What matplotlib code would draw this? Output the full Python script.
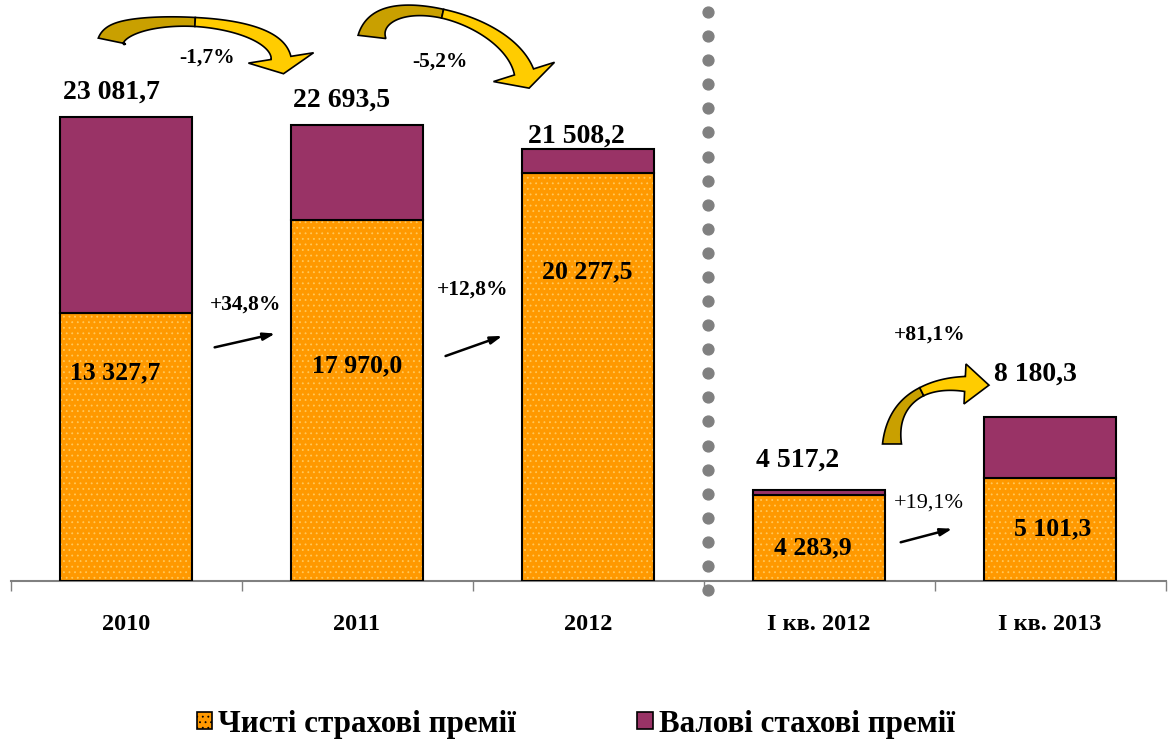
import matplotlib
matplotlib.use("Agg")
import matplotlib.pyplot as plt
from matplotlib.patches import Patch, Polygon
import numpy as np

categories = ["2010", "2011", "2012", "I кв. 2012", "I кв. 2013"]
gross = [23081.7, 22693.5, 21508.2, 4517.2, 8180.3]
net = [13327.7, 17970.0, 20277.5, 4283.9, 5101.3]
gross_labels = ["23 081,7", "22 693,5", "21 508,2", "4 517,2", "8 180,3"]
net_labels = ["13 327,7", "17 970,0", "20 277,5", "4 283,9", "5 101,3"]
gross_changes = ["-1,7%", "-5,2%", "+81,1%"]
net_changes = ["+34,8%", "+12,8%", "+19,1%"]
legend_labels = ["Чисті страхові премії", "Валові стахові премії"]

ORANGE = "#FF9900"
PURPLE = "#993366"
FONT = "Liberation Serif"
plt.rcParams["hatch.linewidth"] = 0.6

fig = plt.figure(figsize=(11.68, 7.45), dpi=100)
ax = fig.add_axes([10.5/1168, 164/745, 1155/1168, 581/745])
x = np.arange(len(categories))
w = 0.575
diff = [g - n for g, n in zip(gross, net)]

# orange with dotted pattern
ax.bar(x, net, w, color=ORANGE, edgecolor="#FFC85A", hatch="...", linewidth=0, zorder=2)
ax.bar(x, net, w, facecolor="none", edgecolor="black", linewidth=1.5, zorder=3)
ax.bar(x, diff, w, bottom=net, color=PURPLE, edgecolor="black", linewidth=1.5, zorder=3)

XLIM = (-0.5, 4.5)
YLIM = (0, 28900)
ax.set_xlim(*XLIM)
ax.set_ylim(*YLIM)
for s in ["top", "right", "left"]:
    ax.spines[s].set_visible(False)
ax.spines["bottom"].set_color("#808080")
ax.spines["bottom"].set_linewidth(1.5)
ax.set_yticks([])
ax.set_xticks([-0.5, 0.5, 1.5, 2.5, 3.5, 4.5])
ax.set_xticklabels([])
ax.tick_params(axis="x", length=7, color="#808080", width=1)
for xi, lab in zip(x, categories):
    ax.text(xi, -2150, lab, ha="center", va="center", fontsize=17.5, fontweight="bold",
            family=FONT)

# dotted separator
dot_y = np.linspace(-448, 28300, 25)
ax.plot(np.full_like(dot_y, 2.52), dot_y, linestyle="none", marker="o", markersize=7.8,
        color="#808080", clip_on=False, zorder=4)

# total labels
tot_pos = [(-0.065, 24330), (0.935, 23930), (1.952, 22140), (2.909, 6020), (3.935, 10300)]
for (tx, ty), lab in zip(tot_pos, gross_labels):
    ax.text(tx, ty, lab, ha="center", va="center", fontsize=20, fontweight="bold",
            family=FONT, zorder=8)

net_pos = [(-0.048, 10348), (1.0, 10697), (1.996, 15373), (2.974, 1642), (4.013, 2587)]
for (tx, ty), lab in zip(net_pos, net_labels):
    ax.text(tx, ty, lab, ha="center", va="center", fontsize=18.5, fontweight="bold", family=FONT)

# percentage labels
gc_pos = [(0.351, 26020), (1.359, 25821), (3.48, 12239)]
for (tx, ty), lab in zip(gc_pos, gross_changes):
    ax.text(tx, ty, lab, ha="center", va="center", fontsize=15.5, fontweight="bold", family=FONT)
nc_pos = [(0.519, 13731), (1.502, 14478), (3.476, 3880)]
for i, ((tx, ty), lab) in enumerate(zip(nc_pos, net_changes)):
    ax.text(tx, ty, lab, ha="center", va="center", fontsize=15.5 if i < 2 else 16,
            fontweight="bold" if i < 2 else "normal", family=FONT)

# straight black arrows
straight = [((0.372, 11592), (0.658, 12338)), ((1.372, 11144), (1.641, 12239)),
            ((3.342, 1891), (3.589, 2637))]
for a, b in straight:
    ax.annotate("", xy=b, xytext=a,
                arrowprops=dict(arrowstyle="-|>,head_length=0.7,head_width=0.22",
                                color="black", lw=1.8), zorder=5)


# curved ribbon arrows (Office-style curved arrows), cubic centre line in data coords
def ribbon_arrow(ctrl, wt, wm, wb, hw, hl, ts=0.5, dark="#C9A000", light="#FFCC00"):
    tr = ax.transData
    P = [np.array(tr.transform(p)) for p in ctrl]
    t = np.linspace(0, 1, 120)[:, None]
    pts = ((1 - t) ** 3 * P[0] + 3 * (1 - t) ** 2 * t * P[1]
           + 3 * (1 - t) * t ** 2 * P[2] + t ** 3 * P[3])
    der = (3 * (1 - t) ** 2 * (P[1] - P[0]) + 6 * (1 - t) * t * (P[2] - P[1])
           + 3 * t ** 2 * (P[3] - P[2]))
    d = der / np.linalg.norm(der, axis=1, keepdims=True)
    n = np.column_stack([-d[:, 1], d[:, 0]])
    tt = t[:, 0]
    wid = np.where(tt < ts, wm + (wt - wm) * ((ts - tt) / ts) ** 2,
                   wm + (wb - wm) * ((tt - ts) / (1 - ts)) ** 1.5)
    left = pts + n * wid[:, None] / 2
    right = pts - n * wid[:, None] / 2
    m = tt <= ts + 1e-9
    poly1 = np.vstack([left[m], right[m][::-1]])
    m2 = tt >= ts - 0.01
    dend, nend, pend = d[-1], n[-1], pts[-1]
    head = np.array([pend + nend * hw / 2, pend + dend * hl, pend - nend * hw / 2])
    poly2 = np.vstack([left[m2], head, right[m2][::-1]])
    inv = tr.inverted()
    for poly, col in ((poly1, dark), (poly2, light)):
        ax.add_patch(Polygon(inv.transform(poly), closed=True, facecolor=col,
                             edgecolor="black", linewidth=1.2, clip_on=False, zorder=6))


ribbon_arrow([(-0.0606, 26865), (-0.0346, 28308), (0.6407, 28208), (0.6710, 26019)],
             28, 9, 20, 66, 16)
ribbon_arrow([(1.0649, 27064), (1.0909, 29601), (1.6450, 28159), (1.7229, 25322)],
             28, 9, 20, 64, 17)
ribbon_arrow([(3.3160, 6816), (3.3160, 9005), (3.4589, 9900), (3.6320, 9801)],
             19, 9, 15, 40, 24, ts=0.6)

# legend
handles = [Patch(facecolor=ORANGE, edgecolor="black", hatch="...", linewidth=1.2),
           Patch(facecolor=PURPLE, edgecolor="black", linewidth=1.2)]
fig.legend(handles, legend_labels, loc="center", bbox_to_anchor=(0.493, 0.028), ncol=2,
           frameon=False, prop=dict(family=FONT, weight="bold", size=22.3),
           handlelength=0.5, handleheight=0.5, handletextpad=0.2, columnspacing=3.9)

fig.savefig("out.png", dpi=100)
